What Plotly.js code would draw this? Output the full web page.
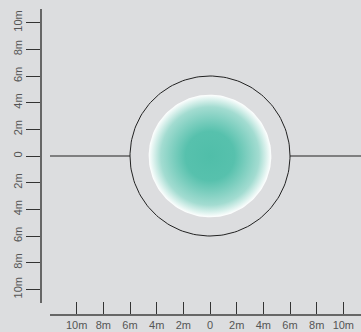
<!DOCTYPE html>
<html>
<head>
<meta charset="utf-8">
<script src="https://cdn.plot.ly/plotly-3.0.1.min.js"></script>
<style>html,body{margin:0;padding:0;background:#dcdddf;}#chart{width:361px;height:332px;}</style>
</head>
<body>
<div id="chart"></div>
<script>
// Data
const tickVals = [-10, -8, -6, -4, -2, 0, 2, 4, 6, 8, 10];
const tickLabels = ["10m", "8m", "6m", "4m", "2m", "0", "2m", "4m", "6m", "8m", "10m"];
const outerRadius = 6;      // metres
const innerRadius = 4.6;    // metres (gradient disc)
const centerX = 0;
const centerY = 0;
const leftLineX = [-12, -6];
const rightLineX = [6, 12];
const lineY = [0, 0];

function circlePts(r, n) {
  const xs = [], ys = [];
  for (let i = 0; i <= n; i++) {
    const a = 2 * Math.PI * i / n;
    xs.push(centerX + r * Math.cos(a));
    ys.push(centerY + r * Math.sin(a));
  }
  return {x: xs, y: ys};
}
const inner = circlePts(innerRadius, 180);
const outer = circlePts(outerRadius, 180);

const traces = [
  {
    x: [null], y: [null], xaxis: 'x2', yaxis: 'y2', type: 'scatter', mode: 'lines',
    hoverinfo: 'skip', showlegend: false
  },
  {
    x: inner.x, y: inner.y, type: 'scatter', mode: 'lines',
    fill: 'toself', line: {width: 0, color: 'rgba(0,0,0,0)'},
    fillgradient: {type: 'radial', colorscale: [[0, '#50bea9'], [0.4, '#57c1ad'], [0.8, '#a3dcd1'], [1, '#ffffff']]},
    hoverinfo: 'skip', showlegend: false
  },
  {
    x: outer.x, y: outer.y, type: 'scatter', mode: 'lines',
    line: {color: '#222', width: 1}, hoverinfo: 'skip', showlegend: false
  },
  {
    x: leftLineX, y: lineY, type: 'scatter', mode: 'lines',
    line: {color: '#222', width: 1.2}, hoverinfo: 'skip', showlegend: false
  },
  {
    x: rightLineX, y: lineY, type: 'scatter', mode: 'lines',
    line: {color: '#222', width: 1.2}, hoverinfo: 'skip', showlegend: false
  }
];

const W = 361, H = 332, PX = 40 / 3; // pixels per metre
const cx = 210, cy = 156;
const tickFont = {family: 'Liberation Sans, Arial, sans-serif', size: 11, color: '#555'};

const layout = {
  width: W, height: H,
  margin: {l: 0, r: 0, t: 0, b: 0},
  paper_bgcolor: '#dcdddf', plot_bgcolor: 'rgba(0,0,0,0)',
  showlegend: false,
  xaxis: {domain: [0, 1], range: [-cx / PX, (W - cx) / PX], visible: false, fixedrange: true},
  yaxis: {domain: [0, 1], range: [-(H - cy) / PX, cy / PX], visible: false, fixedrange: true},
  xaxis2: {
    domain: [50 / W, 1], range: [-12, (W - cx) / PX], anchor: 'free', position: 18 / H,
    showline: true, linecolor: '#666', linewidth: 1.5, showgrid: false, zeroline: false,
    ticks: 'inside', ticklen: 12, tickwidth: 1, tickcolor: '#333',
    tickmode: 'array', tickvals: tickVals, ticktext: tickLabels, tickfont: tickFont,
    fixedrange: true
  },
  yaxis2: {
    domain: [(H - (cy + 11 * PX)) / H, (H - (cy - 11 * PX)) / H], range: [-11, 11],
    anchor: 'free', position: 40 / W,
    showline: true, linecolor: '#666', linewidth: 1.5, showgrid: false, zeroline: false,
    ticks: 'outside', ticklen: 14, tickwidth: 1, tickcolor: '#333',
    tickmode: 'array', tickvals: tickVals, ticktext: tickLabels, tickfont: tickFont,
    tickangle: -90, fixedrange: true
  }
};

Plotly.newPlot('chart', traces, layout, {displayModeBar: false, staticPlot: true});
</script>
</body>
</html>
